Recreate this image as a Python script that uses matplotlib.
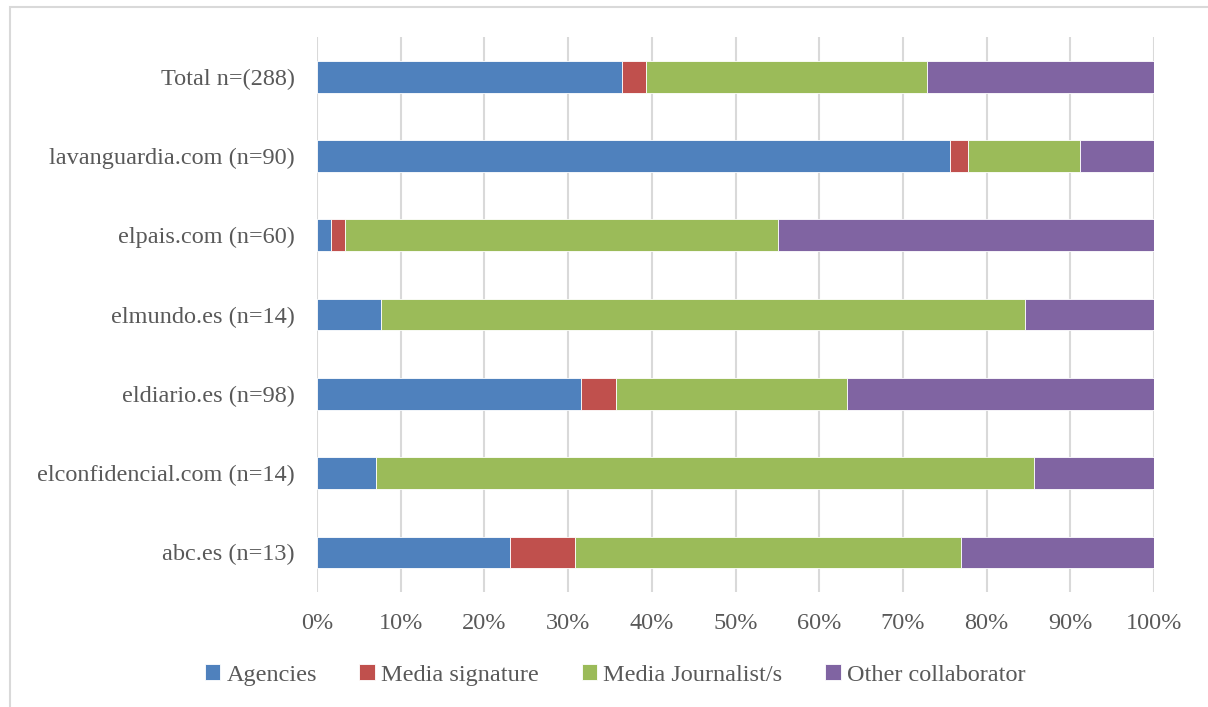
import numpy as np
import matplotlib.pyplot as plt
from matplotlib.patches import Rectangle

# Datos (porcentajes)
categorias = ['abc.es (n=13)', 'elconfidencial.com (n=14)', 'eldiario.es (n=98)',
              'elmundo.es (n=14)', 'elpais.com (n=60)', 'lavanguardia.com (n=90)',
              'Total n=(288)']
agencias = [23.1, 7.1, 31.6, 7.7, 1.7, 75.6, 36.5]
firma = [7.7, 0.0, 4.1, 0.0, 1.7, 2.2, 2.8]
periodistas = [46.2, 78.6, 27.6, 76.9, 51.7, 13.3, 33.7]
otros = [23.1, 14.3, 36.7, 15.4, 45.0, 8.9, 27.1]
series = ['Agencies', 'Media signature', 'Media Journalist/s', 'Other collaborator']

colores = ['#4F81BD', '#C0504D', '#9BBB59', '#8064A2']
gris = '#595959'

plt.rcParams['font.family'] = ['Liberation Serif', 'DejaVu Serif']

fig = plt.figure(figsize=(12.08, 7.07), dpi=100)
ax = fig.add_axes([317 / 1208, 1 - 592 / 707, (1154 - 317) / 1208, (592 - 37) / 707])

# marco del gráfico
fig.patches.append(Rectangle((10 / 1208, -0.05), 1.1, 1 - 7 / 707 + 0.05,
                             transform=fig.transFigure, fill=False,
                             edgecolor='#d9d9d9', linewidth=1.5))

y = np.arange(len(categorias))
datos = np.array([agencias, firma, periodistas, otros])
tot = datos.sum(axis=0)
datos = datos / tot * 100
izq = np.zeros(len(categorias))
for i in range(4):
    ax.barh(y, datos[i], left=izq, height=0.4, color=colores[i],
            edgecolor='white', linewidth=0.6, label=series[i], zorder=3)
    izq += datos[i]

ax.set_xlim(0, 100)
ax.set_ylim(-0.5, len(categorias) - 0.5)
ax.set_xticks(np.arange(0, 101, 10))
ax.set_xticklabels([f'{v}%' for v in range(0, 101, 10)])
ax.set_yticks(y)
ax.set_yticklabels(categorias)
ax.grid(axis='x', color='#d9d9d9', linewidth=1.5, zorder=0)
for s in ax.spines.values():
    s.set_visible(False)
ax.tick_params(axis='x', length=0, pad=15, labelsize=17.5, labelcolor=gris)
ax.tick_params(axis='y', length=0, pad=16, labelsize=17.5, labelcolor=gris)

fig.legend(loc='center', bbox_to_anchor=(615 / 1208, 1 - 675 / 707), ncol=4,
           frameon=False, fontsize=17.5, labelcolor=gris, handlelength=0.65,
           handleheight=0.65, handletextpad=0.25, columnspacing=1.75)

fig.savefig('out.png', dpi=100)
